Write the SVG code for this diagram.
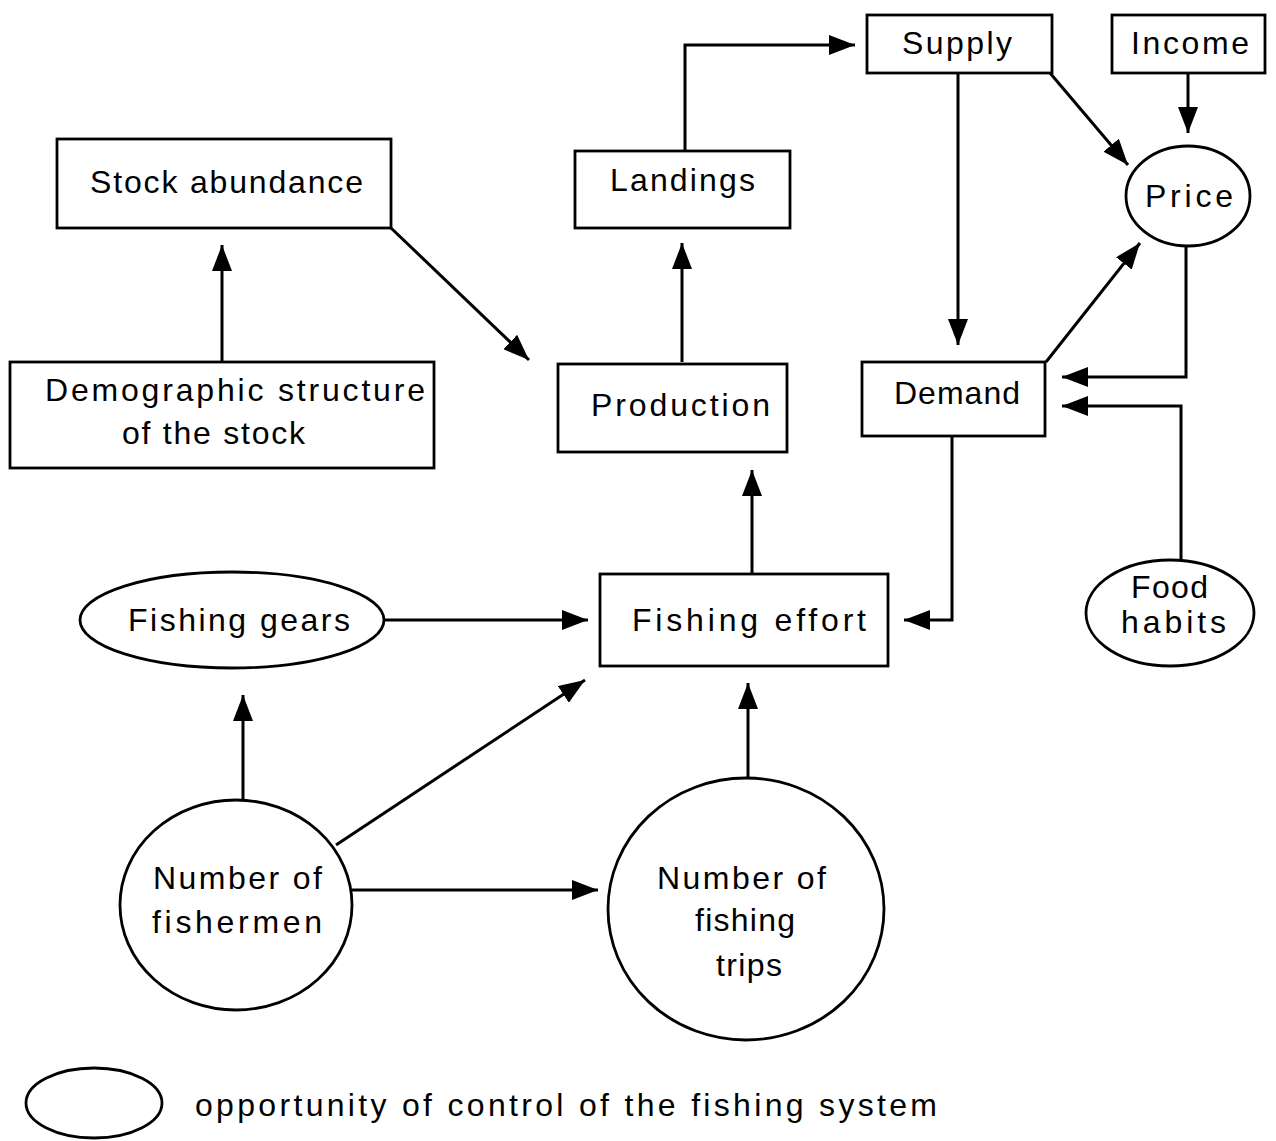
<svg xmlns="http://www.w3.org/2000/svg" width="1276" height="1141" viewBox="0 0 1276 1141">
<style>
.box{fill:#fff;stroke:#000;stroke-width:2.8}
.ell{fill:#fff;stroke:#000;stroke-width:2.8}
.t{font-family:"Liberation Sans",Arial,sans-serif;font-size:32px;fill:#000}
.c{fill:none;stroke:#000;stroke-width:3}
</style>
<defs>
<marker id="ah" markerWidth="26" markerHeight="20" refX="26" refY="10" orient="auto" markerUnits="userSpaceOnUse">
<path d="M0,0 L26,10 L0,20 Z" fill="#000"/>
</marker>
</defs>
<rect width="1276" height="1141" fill="#fff"/>
<g id="connectors">
<path class="c" d="M685,150 V45 H855" marker-end="url(#ah)"/>
<path class="c" d="M1188,73 V133" marker-end="url(#ah)"/>
<path class="c" d="M1050,73 L1128,165" marker-end="url(#ah)"/>
<path class="c" d="M958,73 V345" marker-end="url(#ah)"/>
<path class="c" d="M1046,362 L1140,243" marker-end="url(#ah)"/>
<path class="c" d="M1186,246 V377 H1062" marker-end="url(#ah)"/>
<path class="c" d="M1181,560 V406 H1062" marker-end="url(#ah)"/>
<path class="c" d="M952,436 V620 H904" marker-end="url(#ah)"/>
<path class="c" d="M391,228 L529,360" marker-end="url(#ah)"/>
<path class="c" d="M222,362 V245" marker-end="url(#ah)"/>
<path class="c" d="M682,362 V243" marker-end="url(#ah)"/>
<path class="c" d="M752,574 V470" marker-end="url(#ah)"/>
<path class="c" d="M384,620 H588" marker-end="url(#ah)"/>
<path class="c" d="M243,800 V695" marker-end="url(#ah)"/>
<path class="c" d="M336,845 L585,680" marker-end="url(#ah)"/>
<path class="c" d="M352,890 H598" marker-end="url(#ah)"/>
<path class="c" d="M748,778 V683" marker-end="url(#ah)"/>
</g>
<g id="supply"><rect class="box" x="867" y="15" width="185" height="58"/><text class="t" x="902" y="54" textLength="110" lengthAdjust="spacing">Supply</text></g>
<g id="income"><rect class="box" x="1112" y="15" width="153" height="58"/><text class="t" x="1131" y="54" textLength="118" lengthAdjust="spacing">Income</text></g>
<g id="landings"><rect class="box" x="575" y="151" width="215" height="77"/><text class="t" x="610" y="191" textLength="145" lengthAdjust="spacing">Landings</text></g>
<g id="stock-abundance"><rect class="box" x="57" y="139" width="334" height="89"/><text class="t" x="90" y="193" textLength="273" lengthAdjust="spacing">Stock abundance</text></g>
<g id="price"><ellipse class="ell" cx="1188" cy="196" rx="62" ry="50"/><text class="t" x="1145" y="207" textLength="88" lengthAdjust="spacing">Price</text></g>
<g id="demand"><rect class="box" x="862" y="362" width="183" height="74"/><text class="t" x="894" y="404" textLength="126" lengthAdjust="spacing">Demand</text></g>
<g id="production"><rect class="box" x="558" y="364" width="229" height="88"/><text class="t" x="591" y="416" textLength="179" lengthAdjust="spacing">Production</text></g>
<g id="demographic"><rect class="box" x="10" y="362" width="424" height="106"/><text class="t" x="45" y="401" textLength="380" lengthAdjust="spacing">Demographic  structure</text><text class="t" x="122" y="444" textLength="183" lengthAdjust="spacing">of the stock</text></g>
<g id="fishing-gears"><ellipse class="ell" cx="232" cy="620" rx="152" ry="48"/><text class="t" x="128" y="631" textLength="222" lengthAdjust="spacing">Fishing gears</text></g>
<g id="fishing-effort"><rect class="box" x="600" y="574" width="288" height="92"/><text class="t" x="632" y="631" textLength="234" lengthAdjust="spacing">Fishing  effort</text></g>
<g id="food-habits"><ellipse class="ell" cx="1170" cy="613" rx="84" ry="53"/><text class="t" x="1131" y="598" textLength="77" lengthAdjust="spacing">Food</text><text class="t" x="1121" y="633" textLength="105" lengthAdjust="spacing">habits</text></g>
<g id="number-fishermen"><ellipse class="ell" cx="236" cy="905" rx="116" ry="105"/><text class="t" x="153" y="889" textLength="169" lengthAdjust="spacing">Number of</text><text class="t" x="152" y="933" textLength="170" lengthAdjust="spacing">fishermen</text></g>
<g id="number-trips"><ellipse class="ell" cx="746" cy="909" rx="138" ry="131"/><text class="t" x="657" y="889" textLength="169" lengthAdjust="spacing">Number of</text><text class="t" x="695" y="931" textLength="100" lengthAdjust="spacing">fishing</text><text class="t" x="716" y="976" textLength="66" lengthAdjust="spacing">trips</text></g>
<g id="legend"><ellipse class="ell" cx="94" cy="1103" rx="68" ry="35"/><text class="t" x="195" y="1116" textLength="742" lengthAdjust="spacing">opportunity of control of the fishing system</text></g>
</svg>
